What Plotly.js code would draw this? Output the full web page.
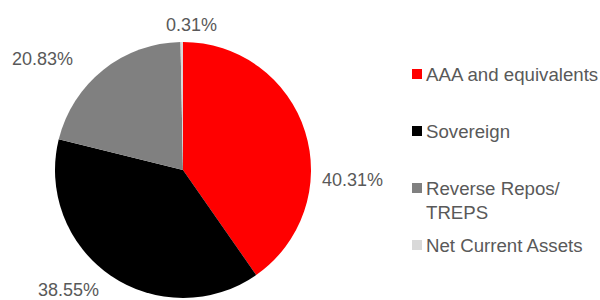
<!DOCTYPE html>
<html>
<head>
<meta charset="utf-8">
<script src="https://cdn.plot.ly/plotly-3.0.1.min.js"></script>
<style>html,body{margin:0;padding:0;background:#fff}#chart{width:600px;height:300px}</style>
</head>
<body>
<div id="chart"></div>
<script>
const categories = ["AAA and equivalents", "Sovereign", "Reverse Repos/<br>TREPS", "Net Current Assets"];
const values = [40.31, 38.55, 20.83, 0.31];
const colors = ["#FF0000", "#000000", "#808080", "#D9D9D9"];
const textColor = "#595959";
const font = "Arial, 'Liberation Sans', sans-serif";

const trace = {
  type: "pie",
  labels: categories,
  values: values,
  sort: false,
  direction: "clockwise",
  rotation: 0,
  marker: {colors: colors, line: {width: 0}},
  textinfo: "none",
  hoverinfo: "label+percent",
  domain: {x: [55/600, 311/600], y: [2/300, 258/300]},
  showlegend: false
};

// Data label placement (pixel centres, like the reference's "best fit" labels)
const labelPos = [[352.5, 179.5], [68, 289.5], [42.5, 59], [191, 24.5]];
// Legend row positions (pixel centres)
const legendY = [74, 131, 188, 245];

const annotations = [];
const shapes = [];
values.forEach((v, i) => {
  annotations.push({
    xref: "paper", yref: "paper",
    x: labelPos[i][0]/600, y: 1 - labelPos[i][1]/300,
    xanchor: "center", yanchor: "middle",
    text: v.toFixed(2) + "%", showarrow: false,
    font: {family: font, size: 18, color: textColor}
  });
});
categories.forEach((c, i) => {
  annotations.push({
    xref: "paper", yref: "paper",
    x: 424/600, y: 1 - legendY[i]/300,
    xanchor: "left", yanchor: i === 2 ? "top" : "middle",
    yshift: i === 2 ? 12 : 0,
    align: "left",
    text: c, showarrow: false,
    font: {family: font, size: 18.67, color: textColor}
  });
  shapes.push({
    type: "rect", xref: "paper", yref: "paper",
    x0: 412/600, x1: 422/600,
    y0: 1 - (legendY[i] + 5)/300, y1: 1 - (legendY[i] - 5)/300,
    fillcolor: colors[i], line: {width: 0}
  });
});

const layout = {
  width: 600, height: 300,
  margin: {l: 0, r: 0, t: 0, b: 0},
  paper_bgcolor: "#ffffff",
  showlegend: false,
  annotations: annotations,
  shapes: shapes
};

Plotly.newPlot("chart", [trace], layout, {displayModeBar: false, staticPlot: true});
</script>
</body>
</html>
